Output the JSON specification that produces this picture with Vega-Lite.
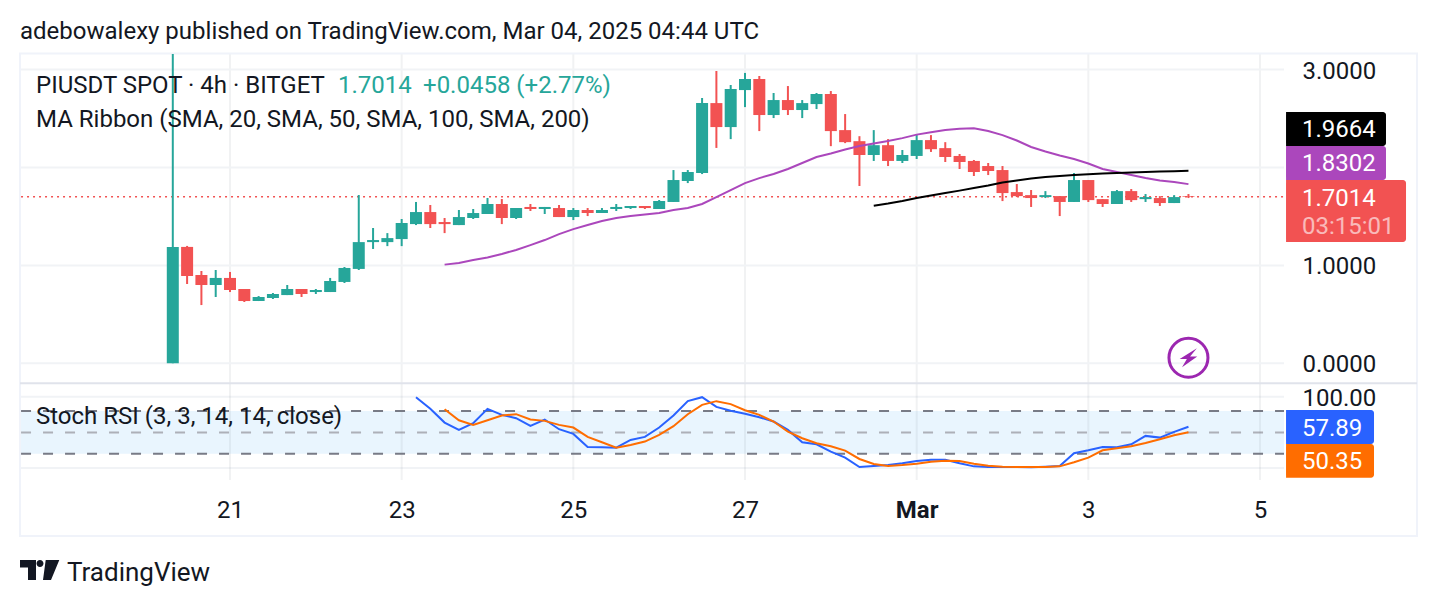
{"$schema":"https://vega.github.io/schema/vega-lite/v6.json","width":1436,"height":606,"padding":0,"autosize":{"type":"none"},"background":"#ffffff","config":{"view":{"stroke":null},"text":{"font":"Roboto"},"axis":{"labelFont":"Roboto"}},
"datasets":{
"candles":[
{"t":"2025-02-20T08:00:00Z","open":0.0,"high":3.16,"low":0.0,"close":1.189},
{"t":"2025-02-20T12:00:00Z","open":1.189,"high":1.199,"low":0.81,"close":0.892},
{"t":"2025-02-20T16:00:00Z","open":0.902,"high":0.943,"low":0.595,"close":0.8},
{"t":"2025-02-20T20:00:00Z","open":0.8,"high":0.953,"low":0.677,"close":0.872},
{"t":"2025-02-21T00:00:00Z","open":0.872,"high":0.933,"low":0.728,"close":0.749},
{"t":"2025-02-21T04:00:00Z","open":0.759,"high":0.759,"low":0.626,"close":0.636},
{"t":"2025-02-21T08:00:00Z","open":0.636,"high":0.687,"low":0.636,"close":0.677},
{"t":"2025-02-21T12:00:00Z","open":0.667,"high":0.718,"low":0.657,"close":0.708},
{"t":"2025-02-21T16:00:00Z","open":0.697,"high":0.8,"low":0.697,"close":0.759},
{"t":"2025-02-21T20:00:00Z","open":0.759,"high":0.759,"low":0.677,"close":0.708},
{"t":"2025-02-22T00:00:00Z","open":0.728,"high":0.759,"low":0.708,"close":0.749},
{"t":"2025-02-22T04:00:00Z","open":0.728,"high":0.872,"low":0.728,"close":0.841},
{"t":"2025-02-22T08:00:00Z","open":0.831,"high":0.984,"low":0.82,"close":0.974},
{"t":"2025-02-22T12:00:00Z","open":0.964,"high":1.719,"low":0.953,"close":1.238},
{"t":"2025-02-22T16:00:00Z","open":1.238,"high":1.382,"low":1.168,"close":1.259},
{"t":"2025-02-22T20:00:00Z","open":1.238,"high":1.33,"low":1.197,"close":1.279},
{"t":"2025-02-23T00:00:00Z","open":1.269,"high":1.474,"low":1.197,"close":1.433},
{"t":"2025-02-23T04:00:00Z","open":1.422,"high":1.648,"low":1.412,"close":1.545,"k":99.5},
{"t":"2025-02-23T08:00:00Z","open":1.545,"high":1.617,"low":1.382,"close":1.422,"k":83.1},
{"t":"2025-02-23T12:00:00Z","open":1.443,"high":1.484,"low":1.33,"close":1.422,"ma1":1.008,"k":63.8,"d":82.6},
{"t":"2025-02-23T16:00:00Z","open":1.412,"high":1.566,"low":1.412,"close":1.494,"ma1":1.025,"k":53.5,"d":67.1},
{"t":"2025-02-23T20:00:00Z","open":1.484,"high":1.576,"low":1.474,"close":1.535,"ma1":1.056,"k":62.9,"d":60.6},
{"t":"2025-02-24T00:00:00Z","open":1.525,"high":1.689,"low":1.525,"close":1.627,"ma1":1.081,"k":83.1,"d":67.1},
{"t":"2025-02-24T04:00:00Z","open":1.627,"high":1.678,"low":1.422,"close":1.484,"ma1":1.117,"k":74.6,"d":73.7},
{"t":"2025-02-24T08:00:00Z","open":1.484,"high":1.586,"low":1.474,"close":1.586,"ma1":1.158,"k":70.0,"d":75.6},
{"t":"2025-02-24T12:00:00Z","open":1.597,"high":1.627,"low":1.556,"close":1.576,"ma1":1.207,"k":59.2,"d":68.1},
{"t":"2025-02-24T16:00:00Z","open":1.576,"high":1.597,"low":1.525,"close":1.597,"ma1":1.259,"k":68.1,"d":66.2},
{"t":"2025-02-24T20:00:00Z","open":1.586,"high":1.617,"low":1.494,"close":1.494,"ma1":1.32,"k":54.5,"d":60.6},
{"t":"2025-02-25T00:00:00Z","open":1.494,"high":1.586,"low":1.463,"close":1.566,"ma1":1.371,"k":47.9,"d":56.8},
{"t":"2025-02-25T04:00:00Z","open":1.566,"high":1.586,"low":1.504,"close":1.535,"ma1":1.412,"k":29.6,"d":43.7},
{"t":"2025-02-25T08:00:00Z","open":1.535,"high":1.586,"low":1.535,"close":1.566,"ma1":1.453,"k":29.1,"d":36.2},
{"t":"2025-02-25T12:00:00Z","open":1.576,"high":1.627,"low":1.556,"close":1.597,"ma1":1.484,"k":28.6,"d":28.6},
{"t":"2025-02-25T16:00:00Z","open":1.586,"high":1.607,"low":1.576,"close":1.607,"ma1":1.504,"k":39.4,"d":32.4},
{"t":"2025-02-25T20:00:00Z","open":1.607,"high":1.607,"low":1.576,"close":1.586,"ma1":1.52,"k":43.7,"d":37.1},
{"t":"2025-02-26T00:00:00Z","open":1.576,"high":1.668,"low":1.576,"close":1.658,"ma1":1.535,"k":56.8,"d":46.5},
{"t":"2025-02-26T04:00:00Z","open":1.648,"high":1.974,"low":1.648,"close":1.872,"ma1":1.566,"k":73.7,"d":58.7},
{"t":"2025-02-26T08:00:00Z","open":1.862,"high":1.974,"low":1.841,"close":1.954,"ma1":1.586,"k":93.9,"d":75.6},
{"t":"2025-02-26T12:00:00Z","open":1.944,"high":2.71,"low":1.933,"close":2.658,"ma1":1.627,"k":99.5,"d":88.7},
{"t":"2025-02-26T16:00:00Z","open":2.658,"high":2.986,"low":2.2,"close":2.413,"ma1":1.698,"k":85.9,"d":93.9},
{"t":"2025-02-26T20:00:00Z","open":2.413,"high":2.843,"low":2.29,"close":2.802,"ma1":1.77,"k":80.3,"d":89.7},
{"t":"2025-02-27T00:00:00Z","open":2.791,"high":2.966,"low":2.617,"close":2.904,"ma1":1.841,"k":76.1,"d":81.2},
{"t":"2025-02-27T04:00:00Z","open":2.904,"high":2.935,"low":2.372,"close":2.536,"ma1":1.892,"k":71.4,"d":74.6},
{"t":"2025-02-27T08:00:00Z","open":2.536,"high":2.761,"low":2.505,"close":2.689,"ma1":1.933,"k":65.3,"d":65.3},
{"t":"2025-02-27T12:00:00Z","open":2.689,"high":2.832,"low":2.536,"close":2.587,"ma1":1.985,"k":53.5,"d":51.2},
{"t":"2025-02-27T16:00:00Z","open":2.587,"high":2.689,"low":2.505,"close":2.658,"ma1":2.046,"k":36.2,"d":41.8},
{"t":"2025-02-27T20:00:00Z","open":2.648,"high":2.761,"low":2.597,"close":2.751,"ma1":2.107,"k":33.3,"d":34.7},
{"t":"2025-02-28T00:00:00Z","open":2.751,"high":2.781,"low":2.218,"close":2.372,"ma1":2.143,"k":23.0,"d":30.5},
{"t":"2025-02-28T04:00:00Z","open":2.382,"high":2.546,"low":2.249,"close":2.259,"ma1":2.184,"k":14.6,"d":24.4},
{"t":"2025-02-28T08:00:00Z","open":2.269,"high":2.32,"low":1.811,"close":2.128,"ma1":2.22,"k":1.4,"d":12.7},
{"t":"2025-02-28T12:00:00Z","open":2.128,"high":2.382,"low":2.067,"close":2.228,"ma1":2.246,"ma2":1.61,"k":2.8,"d":5.6},
{"t":"2025-02-28T16:00:00Z","open":2.228,"high":2.29,"low":2.015,"close":2.067,"ma1":2.271,"ma2":1.632,"k":4.2,"d":2.8},
{"t":"2025-02-28T20:00:00Z","open":2.067,"high":2.179,"low":2.046,"close":2.128,"ma1":2.3,"ma2":1.658,"k":6.6,"d":4.2},
{"t":"2025-03-01T00:00:00Z","open":2.118,"high":2.341,"low":2.087,"close":2.28,"ma1":2.336,"ma2":1.688,"k":9.9,"d":6.1},
{"t":"2025-03-01T04:00:00Z","open":2.28,"high":2.331,"low":2.159,"close":2.187,"ma1":2.361,"ma2":1.713,"k":11.7,"d":8.9},
{"t":"2025-03-01T08:00:00Z","open":2.198,"high":2.259,"low":2.056,"close":2.107,"ma1":2.382,"ma2":1.739,"k":11.7,"d":10.3},
{"t":"2025-03-01T12:00:00Z","open":2.118,"high":2.138,"low":1.985,"close":2.056,"ma1":2.397,"ma2":1.764,"k":6.6,"d":9.9},
{"t":"2025-03-01T16:00:00Z","open":2.067,"high":2.077,"low":1.913,"close":1.954,"ma1":2.402,"ma2":1.79,"k":2.3,"d":6.1},
{"t":"2025-03-01T20:00:00Z","open":2.015,"high":2.046,"low":1.923,"close":1.964,"ma1":2.372,"ma2":1.816,"k":1.4,"d":3.3},
{"t":"2025-03-02T00:00:00Z","open":1.974,"high":2.015,"low":1.657,"close":1.739,"ma1":2.331,"ma2":1.846,"k":1.4,"d":1.9},
{"t":"2025-03-02T04:00:00Z","open":1.749,"high":1.831,"low":1.698,"close":1.708,"ma1":2.276,"ma2":1.867,"k":1.4,"d":1.4},
{"t":"2025-03-02T08:00:00Z","open":1.718,"high":1.77,"low":1.597,"close":1.688,"ma1":2.21,"ma2":1.887,"k":0.9,"d":1.4},
{"t":"2025-03-02T12:00:00Z","open":1.698,"high":1.759,"low":1.688,"close":1.718,"ma1":2.164,"ma2":1.903,"k":1.9,"d":1.4},
{"t":"2025-03-02T16:00:00Z","open":1.708,"high":1.708,"low":1.504,"close":1.648,"ma1":2.123,"ma2":1.913,"k":2.8,"d":2.3},
{"t":"2025-03-02T20:00:00Z","open":1.648,"high":1.944,"low":1.648,"close":1.872,"ma1":2.087,"ma2":1.923,"k":20.7,"d":8.0},
{"t":"2025-03-03T00:00:00Z","open":1.872,"high":1.872,"low":1.648,"close":1.667,"ma1":2.041,"ma2":1.93,"k":24.9,"d":14.6},
{"t":"2025-03-03T04:00:00Z","open":1.677,"high":1.677,"low":1.597,"close":1.627,"ma1":1.985,"ma2":1.939,"k":29.6,"d":24.9},
{"t":"2025-03-03T08:00:00Z","open":1.627,"high":1.77,"low":1.627,"close":1.759,"ma1":1.954,"ma2":1.944,"k":29.1,"d":27.7},
{"t":"2025-03-03T12:00:00Z","open":1.759,"high":1.78,"low":1.648,"close":1.667,"ma1":1.923,"ma2":1.949,"k":33.3,"d":30.5},
{"t":"2025-03-03T16:00:00Z","open":1.677,"high":1.729,"low":1.648,"close":1.698,"ma1":1.892,"ma2":1.954,"k":45.1,"d":35.2},
{"t":"2025-03-03T20:00:00Z","open":1.688,"high":1.708,"low":1.607,"close":1.637,"ma1":1.867,"ma2":1.958,"k":42.7,"d":40.4},
{"t":"2025-03-04T00:00:00Z","open":1.637,"high":1.718,"low":1.637,"close":1.698,"ma1":1.851,"ma2":1.962,"k":50.7,"d":46.0},
{"t":"2025-03-04T04:00:00Z","open":1.708,"high":1.729,"low":1.688,"close":1.7014,"ma1":1.8302,"ma2":1.9664,"k":57.89,"d":50.35}
],
"priceGrid":[{"v":0,"from":"2025-02-18T13:34:00Z","to":"2025-03-05T06:43:00Z"},{"v":1,"from":"2025-02-18T13:34:00Z","to":"2025-03-05T06:43:00Z"},{"v":2,"from":"2025-02-18T13:34:00Z","to":"2025-03-05T06:43:00Z"},{"v":3,"from":"2025-02-18T13:34:00Z","to":"2025-03-05T06:43:00Z"}],
"lastLine":[{"v":1.7014,"from":"2025-02-18T13:34:00Z","to":"2025-03-05T06:43:00Z"}],
"divider":[{"v":-0.204,"from":"2025-02-18T13:17:00Z","to":"2025-03-06T19:55:00Z"}],
"frame":[{"from":"2025-02-18T13:17:00Z","to":"2025-03-06T19:55:00Z","top":3.165,"bottom":-1.765}],
"rsiGrid":[{"v":0,"from":"2025-02-18T13:34:00Z","to":"2025-03-05T06:43:00Z"},{"v":100,"from":"2025-02-18T13:34:00Z","to":"2025-03-05T06:43:00Z"}],
"rsiBand":[{"from":"2025-02-18T13:34:00Z","to":"2025-03-05T06:43:00Z","upper":80,"lower":20}],
"rsiLimits":[{"v":80,"from":"2025-02-18T13:34:00Z","to":"2025-03-05T06:43:00Z"},{"v":20,"from":"2025-02-18T13:34:00Z","to":"2025-03-05T06:43:00Z"}],
"rsiMiddle":[{"v":50,"from":"2025-02-18T13:34:00Z","to":"2025-03-05T06:43:00Z"}],
"dayGrid":[{"t":"2025-02-21T00:00:00Z","top":3.165,"bottom":-1.192},{"t":"2025-02-23T00:00:00Z","top":3.165,"bottom":-1.192},{"t":"2025-02-25T00:00:00Z","top":3.165,"bottom":-1.192},{"t":"2025-02-27T00:00:00Z","top":3.165,"bottom":-1.192},{"t":"2025-03-01T00:00:00Z","top":3.165,"bottom":-1.192},{"t":"2025-03-03T00:00:00Z","top":3.165,"bottom":-1.192},{"t":"2025-03-05T00:00:00Z","top":3.165,"bottom":-1.192}],
"badges":[
{"series":"ma2","left":"2025-03-05T07:17:00Z","top":2.567,"bottom":2.22,"right":"2025-03-06T11:14:00Z"},
{"series":"ma1","left":"2025-03-05T07:17:00Z","top":2.22,"bottom":1.872,"right":"2025-03-06T11:14:00Z"},
{"series":"last","left":"2025-03-05T07:17:00Z","top":1.872,"bottom":1.239,"right":"2025-03-06T16:50:00Z"},
{"series":"k","left":"2025-03-05T07:17:00Z","top":-0.477,"bottom":-0.824,"right":"2025-03-06T07:53:00Z"},
{"series":"d","left":"2025-03-05T07:17:00Z","top":-0.824,"bottom":-1.169,"right":"2025-03-06T07:53:00Z"}
],
"badgeText":[{"t":"2025-03-05T11:45:00Z","label":"1.9664","v":2.393},{"t":"2025-03-05T11:45:00Z","label":"1.8302","v":2.041},{"t":"2025-03-05T11:45:00Z","label":"1.7014","v":1.688},{"t":"2025-03-05T11:45:00Z","label":"57.89","v":-0.661},{"t":"2025-03-05T11:45:00Z","label":"50.35","v":-0.998}],
"timer":[{"t":"2025-03-05T11:45:00Z","label":"03:15:01","v":1.402}],
"icon":[{"t":"2025-03-04T04:00:00Z","v":0.057}],
"logo":[{"t":"2025-02-18T18:47:00Z","v":-2.111}],
"darkText":[
{"t":"2025-02-18T13:17:00Z","v":3.394,"label":"adebowalexy published on TradingView.com, Mar 04, 2025 04:44 UTC"},
{"t":"2025-02-18T17:45:00Z","v":2.843,"label":"PIUSDT SPOT · 4h · BITGET"},
{"t":"2025-02-18T17:45:00Z","v":2.495,"label":"MA Ribbon (SMA, 20, SMA, 50, SMA, 100, SMA, 200)"},
{"t":"2025-02-18T17:45:00Z","v":-0.538,"label":"Stoch RSI (3, 3, 14, 14, close)"}
],
"footer":[{"t":"2025-02-19T02:25:00Z","v":-2.132,"label":"TradingView"}],
"tealText":[
{"t":"2025-02-22T06:12:00Z","v":2.843,"label":"1.7014"},
{"t":"2025-02-23T05:58:00Z","v":2.843,"label":"+0.0458 (+2.77%)"}
]
},
"layer":[
{"layer":[
{"data":{"name":"rsiBand"},"mark":{"type":"rect","color":"#e9f5fe"},"encoding":{"x":{"field":"from","type":"temporal","title":null,"scale":{"type":"utc","padding":0,"domain":["2025-02-18T07:41:00Z","2025-03-07T01:13:00Z"]},
"axis":{"orient":"bottom","offset":-108,"title":null,"grid":false,"domain":false,"ticks":false,"tickSize":0,"labelPadding":0,"labelFontSize":24,"labelColor":"#131722","labelOverlap":false,"labelFlush":false,"labelBound":false,"labelBaseline":"top","values":[{"year":2025,"month":2,"date":21,"utc":true},{"year":2025,"month":2,"date":23,"utc":true},{"year":2025,"month":2,"date":25,"utc":true},{"year":2025,"month":2,"date":27,"utc":true},{"year":2025,"month":3,"date":1,"utc":true},{"year":2025,"month":3,"date":3,"utc":true},{"year":2025,"month":3,"date":5,"utc":true}],"labelExpr":"utcdate(datum.value)==1 ? 'Mar' : utcFormat(datum.value,'%-d')","labelFontWeight":{"condition":{"test":"utcdate(datum.value)==1","value":"bold"},"value":"normal"}}},"x2":{"field":"to"},"y":{"field":"upper","type":"quantitative","title":null,"scale":{"domain":[-193.8,657.3],"nice":false,"zero":false},
"axis":{"orient":"right","offset":-152,"title":null,"grid":false,"domain":false,"ticks":false,"labelPadding":18,"labelFontSize":24,"labelOffset":1.5,"labelColor":"#131722","labelFlush":false,"labelBound":false,"labelOverlap":false,"values":[100],"format":".2f","labelAlign":"left"}},"y2":{"field":"lower"}}},
{"data":{"name":"rsiGrid"},"mark":{"type":"rule","color":"#f1f3f6","strokeWidth":2},"encoding":{"x":{"field":"from","type":"temporal"},"x2":{"field":"to"},"y":{"field":"v","type":"quantitative"}}},
{"data":{"name":"rsiLimits"},"mark":{"type":"rule","color":"#787b86","strokeWidth":2,"strokeDash":[10,12]},"encoding":{"x":{"field":"from","type":"temporal"},"x2":{"field":"to"},"y":{"field":"v","type":"quantitative"}}},
{"data":{"name":"rsiMiddle"},"mark":{"type":"rule","color":"#adb0b8","strokeWidth":2,"strokeDash":[10,12]},"encoding":{"x":{"field":"from","type":"temporal"},"x2":{"field":"to"},"y":{"field":"v","type":"quantitative"}}},
{"data":{"name":"candles"},"mark":{"type":"line","color":"#2962ff","strokeWidth":2},"encoding":{"x":{"field":"t","type":"temporal"},"y":{"field":"k","type":"quantitative"}}},
{"data":{"name":"candles"},"mark":{"type":"line","color":"#ff6d00","strokeWidth":2},"encoding":{"x":{"field":"t","type":"temporal"},"y":{"field":"d","type":"quantitative"}}}
]},
{"layer":[
{"data":{"name":"dayGrid"},"mark":{"type":"rule","color":"#787b86","opacity":0.1,"strokeWidth":2},"encoding":{
"x":{"field":"t","type":"temporal","title":null,"scale":{"type":"utc","padding":0,"domain":["2025-02-18T07:41:00Z","2025-03-07T01:13:00Z"]}},
"y":{"field":"top","type":"quantitative","title":null,"scale":{"domain":[-2.479,3.711],"nice":false,"zero":false},
"axis":{"orient":"right","offset":-152,"title":null,"grid":false,"domain":false,"ticks":false,"labelPadding":18,"labelFontSize":24,"labelOffset":1.5,"labelColor":"#131722","labelFlush":false,"labelBound":false,"labelOverlap":false,"values":[0,1,3],"format":".4f","labelAlign":"left"}},
"y2":{"field":"bottom"}}},
{"data":{"name":"frame"},"mark":{"type":"rect","fill":null,"stroke":"#f0f3fa","strokeWidth":2},"encoding":{"x":{"field":"from","type":"temporal"},"x2":{"field":"to"},"y":{"field":"top","type":"quantitative"},"y2":{"field":"bottom"}}},
{"data":{"name":"priceGrid"},"mark":{"type":"rule","color":"#f1f3f6","strokeWidth":2},"encoding":{"x":{"field":"from","type":"temporal"},"x2":{"field":"to"},"y":{"field":"v","type":"quantitative"}}},
{"data":{"name":"divider"},"mark":{"type":"rule","color":"#e0e3eb","strokeWidth":2},"encoding":{"x":{"field":"from","type":"temporal"},"x2":{"field":"to"},"y":{"field":"v","type":"quantitative"}}},
{"data":{"name":"lastLine"},"mark":{"type":"rule","color":"#f25252","strokeWidth":1.5,"strokeDash":[2,4]},"encoding":{"x":{"field":"from","type":"temporal"},"x2":{"field":"to"},"y":{"field":"v","type":"quantitative"}}},
{"data":{"name":"candles"},"mark":{"type":"rule","strokeWidth":2},"encoding":{"x":{"field":"t","type":"temporal"},"y":{"field":"low","type":"quantitative"},"y2":{"field":"high"},"color":{"condition":{"test":"datum.close>=datum.open","value":"#26a69a"},"value":"#f25252"}}},
{"data":{"name":"candles"},"mark":{"type":"bar","size":12},"encoding":{"x":{"field":"t","type":"temporal"},"y":{"field":"open","type":"quantitative"},"y2":{"field":"close"},"color":{"condition":{"test":"datum.close>=datum.open","value":"#26a69a"},"value":"#f25252"}}},
{"data":{"name":"candles"},"mark":{"type":"line","color":"#ab47bc","strokeWidth":2},"encoding":{"x":{"field":"t","type":"temporal"},"y":{"field":"ma1","type":"quantitative"}}},
{"data":{"name":"candles"},"mark":{"type":"line","color":"#000000","strokeWidth":2},"encoding":{"x":{"field":"t","type":"temporal"},"y":{"field":"ma2","type":"quantitative"}}},
{"data":{"name":"icon"},"mark":{"type":"point","shape":"circle","size":1521,"filled":false,"stroke":"#9c27b0","strokeWidth":3,"opacity":1},"encoding":{"x":{"field":"t","type":"temporal"},"y":{"field":"v","type":"quantitative"}}},
{"data":{"name":"icon"},"mark":{"type":"point","shape":"M0.42 -0.48L-0.44 0.06H-0.08L-0.32 0.48L0.44 -0.06H0.08Z","size":1600,"filled":true,"fill":"#9c27b0","strokeWidth":0,"opacity":1},"encoding":{"x":{"field":"t","type":"temporal"},"y":{"field":"v","type":"quantitative"}}},
{"data":{"name":"logo"},"mark":{"type":"point","shape":"M-0.985 -0.5H-0.185V0.5H-0.585V-0.125H-0.985Z M-0.16 -0.325A0.175 0.175 0 1 0 0.19 -0.325A0.175 0.175 0 1 0 -0.16 -0.325Z M0.3 -0.5H0.98L0.565 0.5H0.165Z","size":1600,"filled":true,"fill":"#131722","strokeWidth":0,"opacity":1},"encoding":{"x":{"field":"t","type":"temporal"},"y":{"field":"v","type":"quantitative"}}},
{"data":{"name":"badges"},"mark":{"type":"rect","cornerRadiusTopRight":3,"cornerRadiusBottomRight":3},"encoding":{"x":{"field":"left","type":"temporal"},"x2":{"field":"right"},"y":{"field":"top","type":"quantitative"},"y2":{"field":"bottom"},"color":{"field":"series","type":"nominal","legend":null,"scale":{"domain":["ma2","ma1","last","k","d"],"range":["#000000","#ab47bc","#f25252","#2962ff","#ff6d00"]}}}},
{"data":{"name":"badgeText"},"mark":{"type":"text","align":"left","baseline":"middle","dy":1,"fontSize":24,"color":"#ffffff","font":"Roboto"},"encoding":{"x":{"field":"t","type":"temporal"},"y":{"field":"v","type":"quantitative"},"text":{"field":"label"}}},
{"data":{"name":"timer"},"mark":{"type":"text","align":"left","baseline":"middle","dy":1,"fontSize":24,"color":"#ffffff","opacity":0.6,"font":"Roboto"},"encoding":{"x":{"field":"t","type":"temporal"},"y":{"field":"v","type":"quantitative"},"text":{"field":"label"}}},
{"data":{"name":"darkText"},"mark":{"type":"text","align":"left","baseline":"middle","dy":1,"fontSize":24,"color":"#131722","font":"Roboto"},"encoding":{"x":{"field":"t","type":"temporal"},"y":{"field":"v","type":"quantitative"},"text":{"field":"label"}}},
{"data":{"name":"footer"},"mark":{"type":"text","align":"left","baseline":"middle","dy":1,"fontSize":26,"color":"#131722","font":"Roboto"},"encoding":{"x":{"field":"t","type":"temporal"},"y":{"field":"v","type":"quantitative"},"text":{"field":"label"}}},
{"data":{"name":"tealText"},"mark":{"type":"text","align":"left","baseline":"middle","dy":1,"fontSize":24,"color":"#26a69a","font":"Roboto"},"encoding":{"x":{"field":"t","type":"temporal"},"y":{"field":"v","type":"quantitative"},"text":{"field":"label"}}}
]}
],
"resolve":{"scale":{"y":"independent"},"axis":{"y":"independent"}}
}
